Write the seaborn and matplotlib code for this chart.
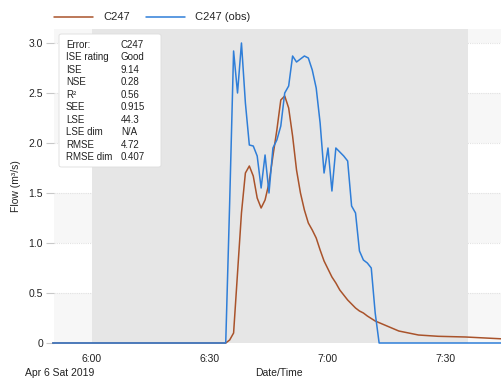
import numpy as np
import pandas as pd
import matplotlib
matplotlib.use("Agg")
import matplotlib.pyplot as plt
from matplotlib.patches import FancyBboxPatch
import seaborn as sns

# minutes after 6:00 on Apr 6 2019
sim_min = [-10, 34, 35, 36, 37, 38, 39, 40, 41, 42, 43, 44, 45, 46, 47, 48, 49, 50,
           51, 52, 53, 54, 55, 56, 57, 58, 59, 60, 61, 62, 63, 64, 65, 66, 67, 68,
           69, 70, 72, 75, 78, 83, 88, 95, 105]
sim_flow = [0, 0, 0.03, 0.1, 0.7, 1.3, 1.7, 1.77, 1.67, 1.45, 1.35, 1.43, 1.6, 1.87,
            2.13, 2.43, 2.47, 2.35, 2.07, 1.73, 1.5, 1.33, 1.2, 1.13, 1.05, 0.93,
            0.82, 0.74, 0.66, 0.6, 0.53, 0.48, 0.43, 0.39, 0.35, 0.32, 0.3, 0.27,
            0.22, 0.17, 0.12, 0.08, 0.067, 0.06, 0.04]

obs_min = [-10] + list(range(34, 74)) + [105]
obs_flow = [0,
            0, 1.4, 2.92, 2.5, 3.0, 2.4, 1.98, 1.97, 1.87, 1.55,
            1.88, 1.5, 1.95, 2.03, 2.17, 2.5, 2.57, 2.87, 2.81, 2.84,
            2.87, 2.85, 2.73, 2.55, 2.2, 1.7, 1.95, 1.52, 1.95, 1.91,
            1.87, 1.82, 1.37, 1.3, 0.92, 0.83, 0.8, 0.75, 0.3, 0,
            0]

series_names = ["C247", "C247 (obs)"]
series_colors = ["#a9532b", "#2f7ed8"]

stat_names = ["Error:", "ISE rating", "ISE", "NSE", "R\u00b2", "SEE", "LSE",
              "LSE dim", "RMSE", "RMSE dim"]
stat_values = ["C247", "Good", "9.14", "0.28", "0.56", "0.915", "44.3", "N/A",
               "4.72", "0.407"]

tick_times = ["06:00", "06:30", "07:00", "07:30"]
tick_labels = ["6:00", "6:30", "7:00", "7:30"]
y_ticks = [0, 0.5, 1.0, 1.5, 2.0, 2.5, 3.0]
y_labels = ["0", "0.5", "1.0", "1.5", "2.0", "2.5", "3.0"]

base = pd.Timestamp("2019-04-06 06:00")
df = pd.concat([
    pd.DataFrame({"time": base + pd.to_timedelta(sim_min, unit="min"),
                  "flow": sim_flow, "series": series_names[0]}),
    pd.DataFrame({"time": base + pd.to_timedelta(obs_min, unit="min"),
                  "flow": obs_flow, "series": series_names[1]}),
])

sns.set_style("white")
plt.rcParams["font.family"] = ["Liberation Sans", "DejaVu Sans"]

W, H = 502, 381
fig = plt.figure(figsize=(W / 100, H / 100), dpi=100)
ax = fig.add_axes([54 / W, 1 - 343 / H, (502 - 54) / W, (343 - 29) / H])

# background bands and shaded period
for lo in [0, 1.0, 2.0, 3.0]:
    ax.axhspan(lo, lo + 0.5, color="#f7f7f7", zorder=0, lw=0)
for y in y_ticks[1:]:
    ax.axhline(y, color="#e2e2e2", lw=0.8, ls=(0, (1, 1)), zorder=0.5)
ax.axvspan(base, base + pd.Timedelta(minutes=95.6), color="#e6e6e6", lw=0, zorder=1)

sns.lineplot(data=df, x="time", y="flow", hue="series", palette=series_colors,
             hue_order=series_names, ax=ax, lw=1.1, zorder=3, legend=False)
for ln in ax.lines:
    ln.set_clip_on(False)

ax.set_xlim(base - pd.Timedelta(minutes=9.66), base + pd.Timedelta(minutes=104.24))
ax.set_ylim(0, 3.14)
ax.set_yticks(y_ticks)
ax.set_yticklabels(y_labels)
ax.set_xticks([pd.Timestamp("2019-04-06 " + t) for t in tick_times])
ax.set_xticklabels(tick_labels)
ax.tick_params(axis="y", length=6, width=0.8, color="#c8c8c8", pad=2,
               labelsize=7.5, labelcolor="#222222", left=True)
ax.tick_params(axis="x", length=0, pad=8, labelsize=7.5, labelcolor="#222222")
for s in ax.spines.values():
    s.set_visible(False)
ax.set_xlabel("")
ax.set_ylabel("Flow (m\u00b3/s)", fontsize=7.5, color="#222222", labelpad=5)

fig.text(279 / W, 1 - 373 / H, "Date/Time", ha="center", va="center",
         fontsize=7.5, color="#222222")
fig.text(25 / W, 1 - 373 / H, "Apr 6 Sat 2019", ha="left", va="center",
         fontsize=7.5, color="#222222")

# legend
handles = [plt.Line2D([], [], color=c, lw=1.1) for c in series_colors]
fig.legend(handles, series_names, loc="center left",
           bbox_to_anchor=(54 / W, 1 - 17.5 / H), ncol=2, frameon=False,
           fontsize=8, handlelength=3.5, handletextpad=0.9, columnspacing=1.5,
           borderpad=0, borderaxespad=0)

# stats box
box = FancyBboxPatch((59 / W, 1 - 167 / H), (161 - 59) / W, (167 - 34) / H,
                     boxstyle="round,pad=0,rounding_size=0.005",
                     transform=fig.transFigure, facecolor="white",
                     edgecolor="#dddddd", lw=0.6, zorder=5)
fig.patches.append(box)
for i, (n, v) in enumerate(zip(stat_names, stat_values)):
    yy = 1 - (45 + i * 12.45) / H
    fig.text(66 / W, yy, n, ha="left", va="center", fontsize=7, color="#222222", zorder=6)
    fig.text(121 / W, yy, v, ha="left", va="center", fontsize=7, color="#222222", zorder=6)

fig.savefig("out.png", dpi=100)
